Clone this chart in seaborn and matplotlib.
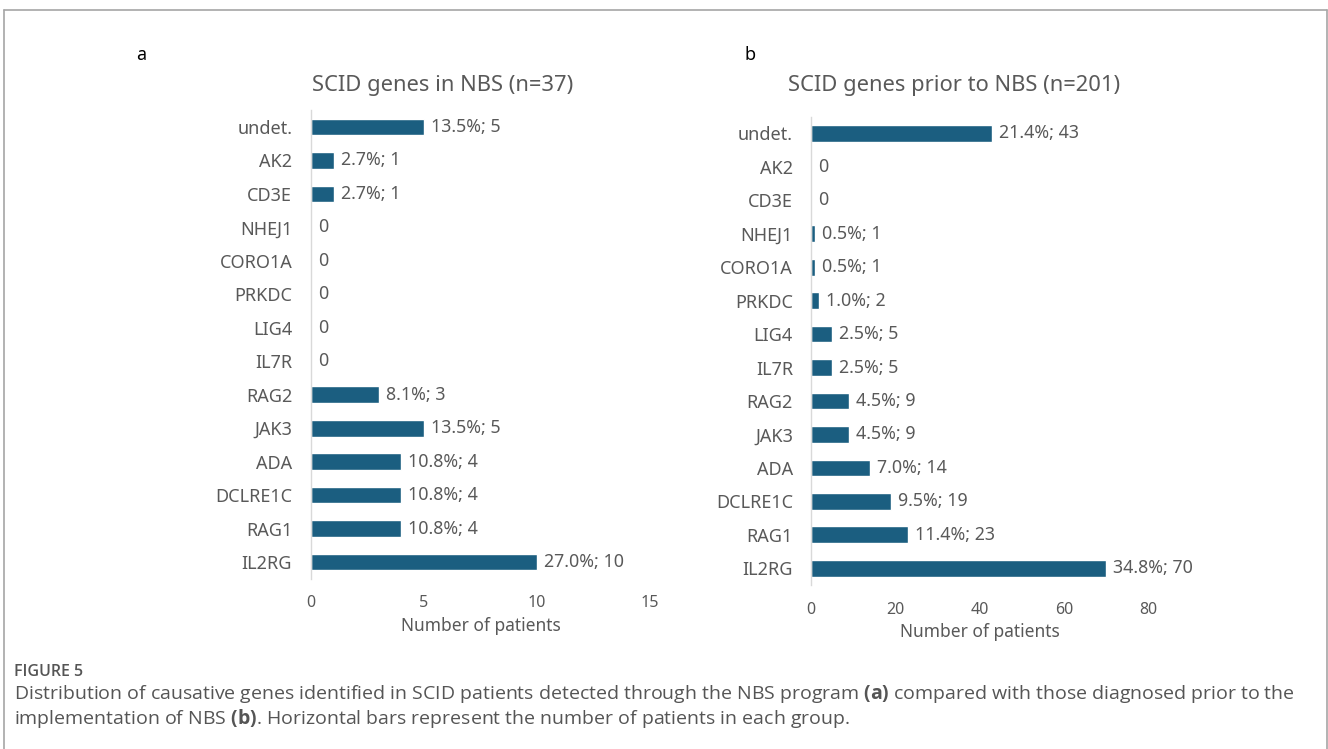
import matplotlib
matplotlib.use("Agg")
import matplotlib.pyplot as plt
from matplotlib.lines import Line2D
import seaborn as sns
import pandas as pd

# Genes, top to bottom
genes = ["undet.", "AK2", "CD3E", "NHEJ1", "CORO1A", "PRKDC", "LIG4", "IL7R",
         "RAG2", "JAK3", "ADA", "DCLRE1C", "RAG1", "IL2RG"]

# (a) SCID patients detected in NBS
nbs_counts = [5, 1, 1, 0, 0, 0, 0, 0, 3, 5, 4, 4, 4, 10]
nbs_pct = [13.5, 2.7, 2.7, 0, 0, 0, 0, 0, 8.1, 13.5, 10.8, 10.8, 10.8, 27.0]

# (b) SCID patients diagnosed prior to NBS
pre_counts = [43, 0, 0, 1, 1, 2, 5, 5, 9, 9, 14, 19, 23, 70]
pre_pct = [21.4, 0, 0, 0.5, 0.5, 1.0, 2.5, 2.5, 4.5, 4.5, 7.0, 9.5, 11.4, 34.8]

titles = ["SCID genes in NBS (n=37)", "SCID genes prior to NBS (n=201)"]
panel_letters = ["a", "b"]
x_ticks = [[0, 5, 10, 15], [0, 20, 40, 60, 80]]

sns.set_theme(style="white")
plt.rcParams["font.family"] = ["Noto Sans", "DejaVu Sans"]
plt.rcParams["mathtext.fontset"] = "custom"
plt.rcParams["mathtext.bf"] = "Open Sans:bold"
plt.rcParams["mathtext.rm"] = "Open Sans"

BAR = "#1b5e80"
TXT = "#595959"

W, H = 1328, 749
fig = plt.figure(figsize=(W / 100, H / 100), dpi=100)
fig.patch.set_facecolor("white")


def fx(px):
    return px / W


def fy(py):
    return 1 - py / H


panels = [
    dict(counts=nbs_counts, pct=nbs_pct, left=311, right=650, top=110.3, bottom=578.7,
         title_x=443, letter_x=141, ypad=13.5),
    dict(counts=pre_counts, pct=pre_pct, left=811, right=1148, top=116.6, bottom=585.0,
         title_x=954, letter_x=750, ypad=13),
]

for i, p in enumerate(panels):
    ax = fig.add_axes([fx(p["left"]), fy(p["bottom"]),
                       fx(p["right"] - p["left"]), (p["bottom"] - p["top"]) / H])
    df = pd.DataFrame({"gene": genes, "count": p["counts"], "pct": p["pct"]})
    sns.barplot(data=df, x="count", y="gene", orient="h", color=BAR,
                saturation=1, width=0.5, ax=ax)
    ax.set_xlim(x_ticks[i][0], x_ticks[i][-1])
    ax.set_ylim(len(genes) - 0.5, -0.5)
    ax.set_xticks(x_ticks[i])
    ax.tick_params(axis="x", length=0, pad=12, labelsize=11.5, labelcolor=TXT)
    ax.tick_params(axis="y", length=0, pad=p["ypad"], labelsize=13, labelcolor=TXT)
    ax.set_ylabel("")
    ax.set_xlabel("Number of patients", fontsize=12.5, color=TXT, labelpad=4)
    for s in ["top", "right", "bottom"]:
        ax.spines[s].set_visible(False)
    ax.spines["left"].set_color("#d9d9d9")
    ax.spines["left"].set_linewidth(1.0)
    ax.grid(False)

    labels = [("0" if c == 0 else f"{pc:.1f}%; {c}") for c, pc in zip(p["counts"], p["pct"])]
    ax.bar_label(ax.containers[0], labels=labels, padding=5, fontsize=12.8, color=TXT)

    fig.text(fx(p["title_x"]), fy(86), titles[i], ha="center", va="center",
             fontsize=15.8, color=TXT)
    fig.text(fx(p["letter_x"]), fy(55), panel_letters[i], ha="center", va="center",
             fontsize=13, color="#000000")

# Frame around the figure (open at the bottom)
frame = "#a6a6a6"
fig.add_artist(Line2D([fx(4), fx(4)], [fy(10), 0], color=frame, lw=1.2))
fig.add_artist(Line2D([fx(4), fx(1327)], [fy(10), fy(10)], color=frame, lw=1.2))
fig.add_artist(Line2D([fx(1326.5), fx(1326.5)], [fy(10), 0], color=frame, lw=1.2))

# Caption
cap = "#555555"
fig.text(fx(14), fy(672), "FIGURE 5", ha="left", va="center", fontsize=11.5,
         color=cap, family="Open Sans", weight="semibold")
line1 = ("Distribution of causative genes identified in SCID patients detected through the NBS program "
         r"$\bf{(a)}$ compared with those diagnosed prior to the")
line2 = (r"implementation of NBS $\bf{(b)}$. Horizontal bars represent the number of patients in each group.")
fig.text(fx(14), fy(694), line1, ha="left", va="center", fontsize=14.0, color=cap,
         family="Open Sans")
fig.text(fx(14), fy(718), line2, ha="left", va="center", fontsize=14.0, color=cap,
         family="Open Sans")

fig.savefig("out.png", dpi=100, facecolor="white")
